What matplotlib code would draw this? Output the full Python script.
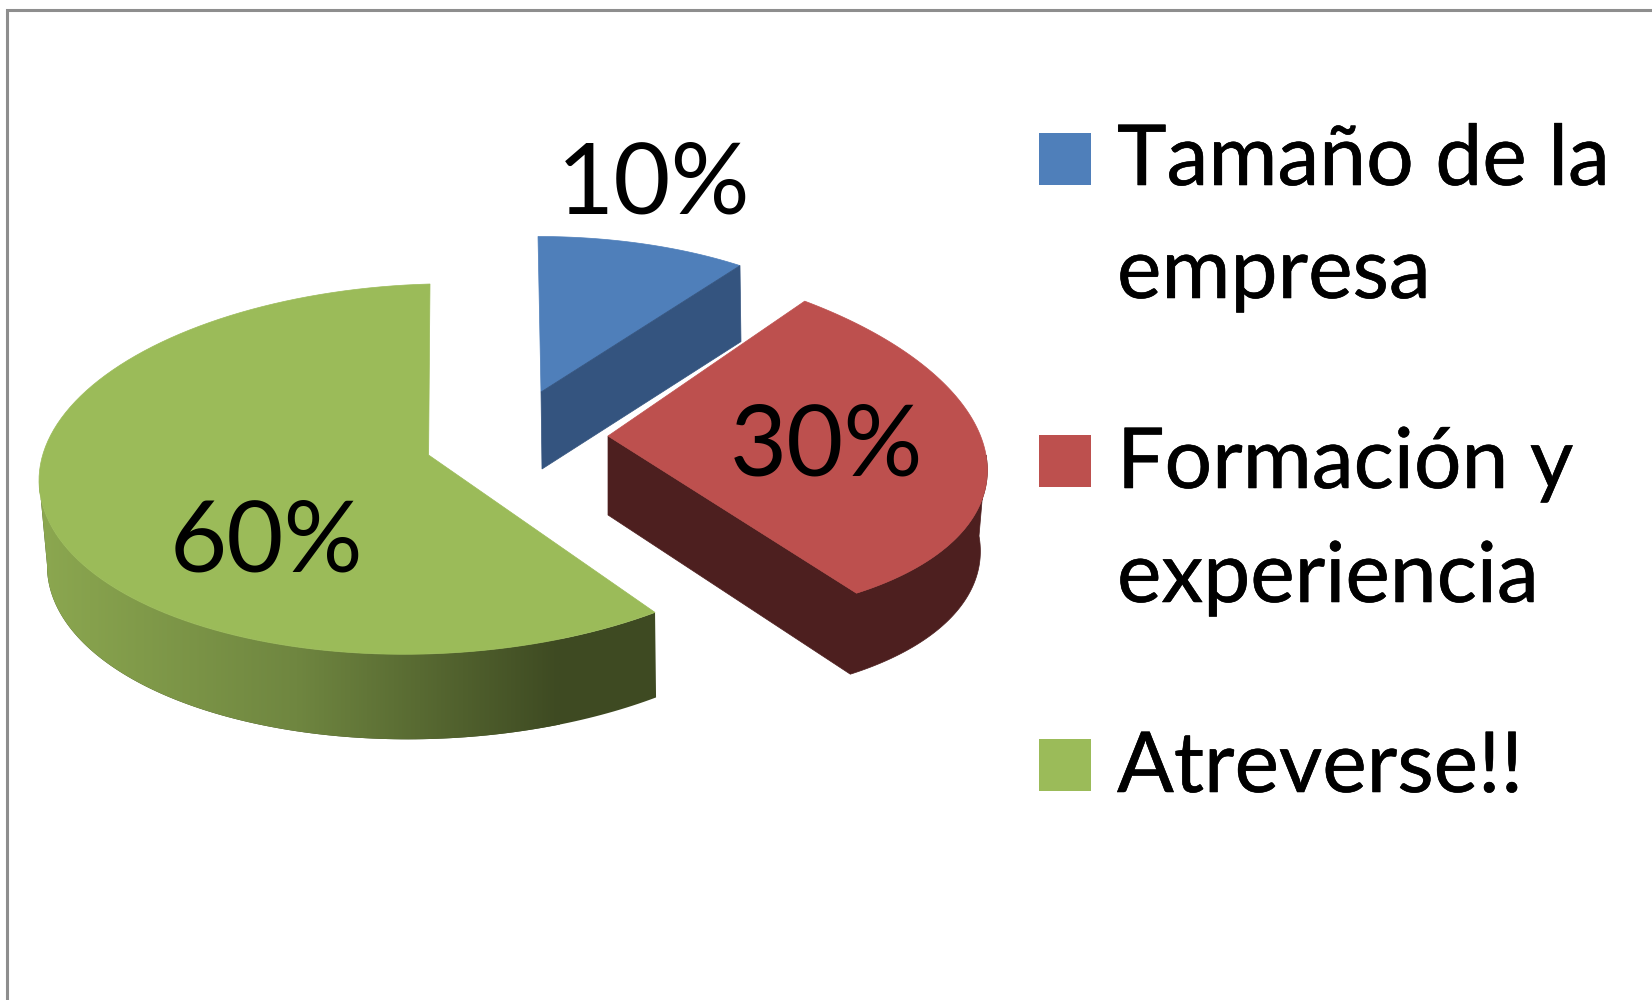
import numpy as np
import matplotlib
matplotlib.use('Agg')
import matplotlib.pyplot as plt
import matplotlib.patheffects as pe
from matplotlib.colors import LinearSegmentedColormap
from matplotlib.patches import Polygon, Rectangle

plt.rcParams['font.family'] = ['Lato', 'DejaVu Sans']

categories = ['Tamaño de la\nempresa', 'Formación y\nexperiencia', 'Atreverse!!']
values = [10, 30, 60]
face_colors = ['#4f7fba', '#bd504e', '#9bbb59']
side_colors = ['#34547f', '#4d1f1f', '#3e4a22']

# the picture is a fake 3d pie, every slice has its own apex and rim ellipse
# apex, center, rx, ry, shear of x, tilt of y, drop of rim (dx, dx by X, dy)
geometry = [
    dict(apex=(541, 392), c=(540, 389), rx=343, ry=152.5, s=-2, t=0, drop=(1, 0, 76)),
    dict(apex=(608, 436), c=(609, 436), rx=377, ry=180.5, s=-32, t=-19, drop=(-5, -2, 81)),
    dict(apex=(428.6, 455), c=(428, 469), rx=389, ry=185, s=2, t=10.6, drop=(3.6, -4.4, 85)),
]
label_pos = [(654, 214), (827, 476), (266, 571)]
legend_y = [133, 435, 739]
legend_base = [(185, 298), (488, 602), (792, None)]

thick = [pe.withStroke(linewidth=0.4, foreground='black')]


def rim(g, a0, a1, n=120):
    a = np.radians(np.linspace(a0, a1, n))
    X, Y = np.cos(a), np.sin(a)
    x = g['c'][0] + g['rx'] * X + g['s'] * Y
    y = g['c'][1] - g['ry'] * Y - g['t'] * X
    dx = g['drop'][0] + g['drop'][1] * X
    return x, y, x + dx, y + g['drop'][2]


# angles go clockwise from the top
ends = 90 - 360 * np.cumsum(values) / np.sum(values)
starts = np.r_[90, ends[:-1]]

fig = plt.figure(figsize=(16.52, 10), dpi=100)
ax = fig.add_axes([0, 0, 1, 1])

# frame of the chart, runs off the picture on the right and the bottom
ax.add_patch(Rectangle((6.5, 10), 1800, 1200, fc='white', ec='#8e8e8e', lw=2.2))

# green
g = geometry[2]
x, y, xb, yb = rim(g, -180, starts[2])
side = np.r_[np.c_[x, y], np.c_[xb, yb][::-1]]
p = Polygon(side, fc=side_colors[2], ec='none')
ax.add_patch(p)
cmap = LinearSegmentedColormap.from_list('side', ['#8ca850', '#6f8640', '#3e4a22'])
im = ax.imshow(np.linspace(0, 1, 256).reshape(1, -1), cmap=cmap, aspect='auto',
               extent=(35, 560, 760, 450), zorder=1)
im.set_clip_path(p)
x, y, _, _ = rim(g, ends[2], starts[2])
ax.fill(np.r_[g['apex'][0], x], np.r_[g['apex'][1], y], color=face_colors[2], lw=0.5, zorder=2)

# blue, only the cut face shows
g = geometry[0]
x, y, xb, yb = rim(g, starts[0], ends[0])
ax.fill(np.r_[g['apex'][0], x], np.r_[g['apex'][1], y], color=face_colors[0], lw=0.5, zorder=2)
ax.fill([g['apex'][0], x[-1], xb[-1], g['apex'][0] + 1],
        [g['apex'][1], y[-1], yb[-1], g['apex'][1] + 77], color=side_colors[0], lw=0.5, zorder=2)

# red, cut face and the front of the rim
g = geometry[1]
x, y, xb, yb = rim(g, starts[1], ends[1])
xs, ys, xsb, ysb = rim(g, ends[1], 0)
ax.fill(np.r_[g['apex'][0], xs, xsb[::-1], g['apex'][0]],
        np.r_[g['apex'][1], ys, ysb[::-1], g['apex'][1] + 79], color=side_colors[1], lw=0.5, zorder=2)
ax.fill(np.r_[g['apex'][0], x], np.r_[g['apex'][1], y], color=face_colors[1], lw=0.5, zorder=3)

for v, (lx, ly) in zip(values, label_pos):
    ax.text(lx, ly, f'{v}%', fontsize=71, color='black', ha='center', va='baseline', zorder=5)

# legend
for cat, col, sy, bases in zip(categories, face_colors, legend_y, legend_base):
    ax.add_patch(Rectangle((1039, sy), 52, 52, fc=col, ec='none', zorder=4))
    for line, b in zip(cat.split('\n'), bases):
        ax.text(1117, b, line, fontsize=60.5, color='black', ha='left', va='baseline', zorder=5,
                path_effects=thick)

ax.set_xlim(0, 1652)
ax.set_ylim(1000, 0)
ax.axis('off')
fig.savefig('out.png', dpi=100)
